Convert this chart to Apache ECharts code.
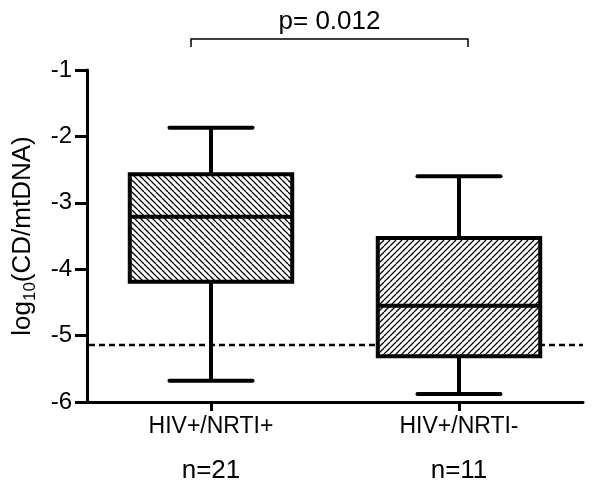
<!DOCTYPE html>
<html>
<head>
<meta charset="utf-8">
<script src="https://cdn.jsdelivr.net/npm/echarts@6/dist/echarts.min.js"></script>
<style>html,body{margin:0;padding:0;background:#fff}#c{width:600px;height:490px}</style>
</head>
<body>
<div id="c"></div>
<script>
// ---- data ----
const categories = ['HIV+/NRTI+', 'HIV+/NRTI-'];
const groupN = ['n=21', 'n=11'];
// [whiskerLow, Q1, median, Q3, whiskerHigh]
const boxNRTIpos = [-5.68, -4.19, -3.21, -2.57, -1.87];
const boxNRTIneg = [-5.88, -5.31, -4.55, -3.53, -2.60];
const detectionLimit = -5.14;
const yTicks = [-6, -5, -4, -3, -2, -1];
const pValueText = 'p= 0.012';

const FONT = '"Liberation Sans", Arial, Helvetica, sans-serif';

function makeHatch(dir) {
  const s = 6;
  const cv = document.createElement('canvas');
  cv.width = s; cv.height = s;
  const ctx = cv.getContext('2d');
  ctx.fillStyle = '#fff';
  ctx.fillRect(0, 0, s, s);
  ctx.strokeStyle = '#000';
  ctx.lineWidth = 1.3;
  ctx.beginPath();
  for (const k of [-s, 0, s]) {
    if (dir === 'back') { ctx.moveTo(k, 0); ctx.lineTo(k + s, s); }
    else { ctx.moveTo(k, s); ctx.lineTo(k + s, 0); }
  }
  ctx.stroke();
  return cv;
}
const hatches = [makeHatch('back'), makeHatch('fwd')];

const boxData = [[0].concat(boxNRTIpos), [1].concat(boxNRTIneg)];

const chart = echarts.init(document.getElementById('c'), null, {renderer: 'canvas'});
const option = {
  animation: false,
  backgroundColor: '#fff',
  grid: {left: 87, right: 17, top: 70, bottom: 88, containLabel: false, outerBoundsMode: 'none'},
  xAxis: {
    type: 'category',
    data: categories,
    boundaryGap: true,
    axisLine: {lineStyle: {color: '#000', width: 3}},
    axisTick: {show: true, alignWithLabel: true, length: 9, lineStyle: {color: '#000', width: 3}},
    axisLabel: {
      margin: 10,
      color: '#000',
      fontFamily: FONT,
      formatter: function (v, i) { return '{a|' + v + '}\n{b|' + groupN[i] + '}'; },
      rich: {
        a: {fontSize: 23, lineHeight: 30, fontFamily: FONT, color: '#000'},
        b: {fontSize: 26, lineHeight: 58, fontFamily: FONT, color: '#000'}
      }
    },
    splitLine: {show: false}
  },
  yAxis: {
    type: 'value',
    min: yTicks[0],
    max: yTicks[yTicks.length - 1],
    interval: 1,
    axisLine: {show: true, lineStyle: {color: '#000', width: 3}},
    axisTick: {show: true, length: 12, lineStyle: {color: '#000', width: 3}},
    axisLabel: {margin: 15, color: '#000', fontSize: 24, fontFamily: FONT},
    splitLine: {show: false},
    name: '{a|log}{b|10}{a|(CD/mtDNA)}',
    nameLocation: 'middle',
    nameRotate: 90,
    nameGap: 48,
    nameTextStyle: {
      rich: {
        a: {fontSize: 26, lineHeight: 32, fontFamily: FONT, color: '#000'},
        b: {fontSize: 17, lineHeight: 17, fontFamily: FONT, color: '#000', verticalAlign: 'bottom'}
      }
    }
  },
  series: [
    {
      type: 'custom',
      z: 1,
      data: [[0, detectionLimit]],
      renderItem: function (params, api) {
        const cs = params.coordSys;
        const y = api.coord([0, api.value(1)])[1];
        return {
          type: 'line',
          shape: {x1: cs.x + 2, y1: y, x2: cs.x + cs.width, y2: y},
          style: {stroke: '#000', lineWidth: 2.5, lineDash: [6, 4]}
        };
      }
    },
    {
      type: 'custom',
      z: 3,
      data: boxData,
      renderItem: function (params, api) {
        const x = api.value(0);
        const band = api.size([1, 0])[0];
        const boxW = band * 0.655;
        const capW = band * 0.335;
        const lo = api.coord([x, api.value(1)]);
        const q1 = api.coord([x, api.value(2)]);
        const md = api.coord([x, api.value(3)]);
        const q3 = api.coord([x, api.value(4)]);
        const hi = api.coord([x, api.value(5)]);
        const cx = lo[0];
        const st = {stroke: '#000', lineWidth: 4, fill: null};
        const capSt = {stroke: '#000', lineWidth: 4, lineCap: 'round'};
        return {
          type: 'group',
          children: [
            {type: 'line', shape: {x1: cx, y1: q3[1], x2: cx, y2: hi[1]}, style: st},
            {type: 'line', shape: {x1: cx, y1: q1[1], x2: cx, y2: lo[1]}, style: st},
            {type: 'line', shape: {x1: cx - capW / 2, y1: hi[1], x2: cx + capW / 2, y2: hi[1]}, style: capSt},
            {type: 'line', shape: {x1: cx - capW / 2, y1: lo[1], x2: cx + capW / 2, y2: lo[1]}, style: capSt},
            {type: 'rect', shape: {x: cx - boxW / 2, y: q3[1], width: boxW, height: q1[1] - q3[1]},
              style: {fill: {image: hatches[params.dataIndex], repeat: 'repeat'}, stroke: '#000', lineWidth: 4}},
            {type: 'line', shape: {x1: cx - boxW / 2, y1: md[1], x2: cx + boxW / 2, y2: md[1]}, style: st}
          ]
        };
      }
    },
    {
      type: 'custom',
      z: 4,
      clip: false,
      data: [[0, 1]],
      renderItem: function (params, api) {
        const cs = params.coordSys;
        const xa = api.coord([0, yTicks[0]])[0] - 20;
        const xb = api.coord([1, yTicks[0]])[0] + 9;
        const yb = cs.y - 31;
        const yt = cs.y - 23;
        return {
          type: 'group',
          children: [
            {type: 'polyline', shape: {points: [[xa, yt], [xa, yb], [xb, yb], [xb, yt]]},
              style: {stroke: '#000', lineWidth: 1.5, fill: null}},
            {type: 'text', style: {text: pValueText, x: (xa + xb) / 2, y: yb - 17, align: 'center', verticalAlign: 'middle',
              fontSize: 26, fontFamily: FONT, fill: '#000'}}
          ]
        };
      }
    }
  ]
};
chart.setOption(option);
</script>
</body>
</html>
